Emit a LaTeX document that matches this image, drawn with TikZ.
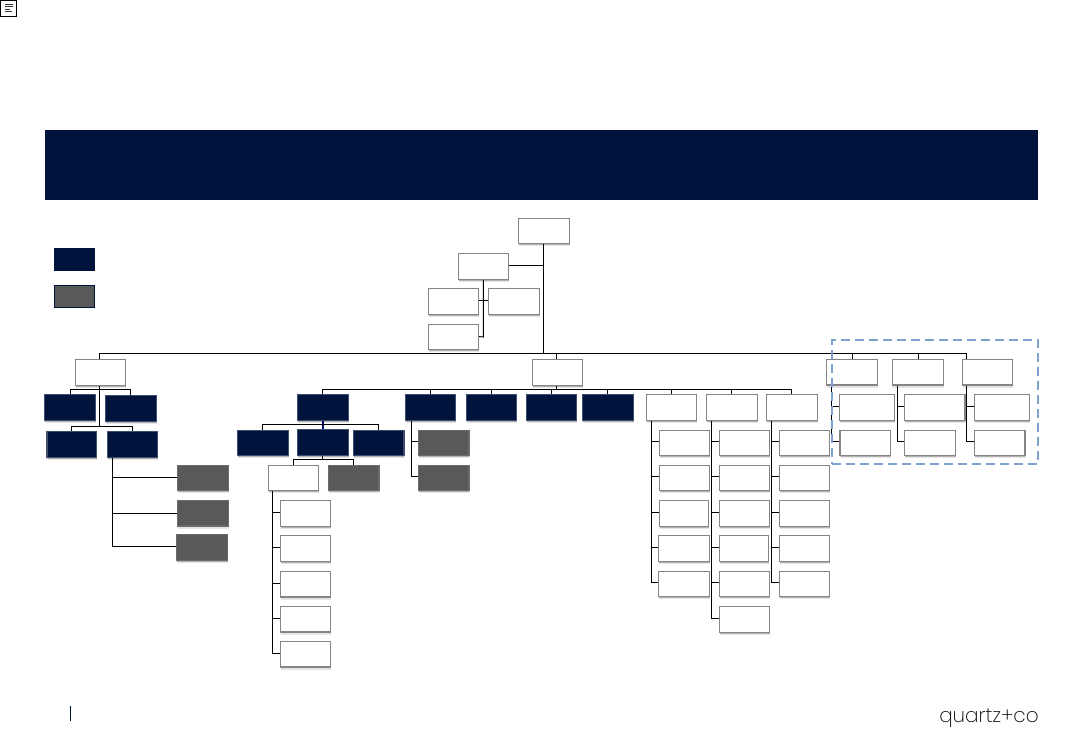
\documentclass[tikz,border=0pt]{standalone}
\usepackage{fontspec}
\newfontfamily\logofont{Poppins}[UprightFont=* ExtraLight]
\usetikzlibrary{shadows,backgrounds,calc}
\definecolor{navy}{HTML}{00133D}
\definecolor{midgray}{HTML}{595959}
\definecolor{dashblue}{HTML}{7FA3CF}
\tikzset{
  x=1pt,y=-1pt,
  softshadow/.style={
    drop shadow={shadow xshift=0.6pt,shadow yshift=-2.6pt,fill=black,opacity=.10},
    drop shadow={shadow xshift=0.4pt,shadow yshift=-1.4pt,fill=black,opacity=.22}},
  basebox/.style={rectangle,inner sep=0pt,outer sep=0pt,line width=1.2pt,softshadow},
  whitebox/.style={basebox,draw=black!48,fill=white},
  navybox/.style={basebox,draw=navy!75!white,fill=navy},
  graybox/.style={basebox,draw=black!58,fill=midgray},
  conn/.style={draw=black,line width=0.95pt},
}
% \bx{style}{name}{x1}{y1}{x2}{y2}
\newcommand{\bx}[6]{%
  \pgfmathsetmacro{\bxw}{#5-#3}\pgfmathsetmacro{\bxh}{#6-#4}%
  \pgfmathsetmacro{\bxcx}{(#3+#5)/2}\pgfmathsetmacro{\bxcy}{(#4+#6)/2}%
  \node[#1,minimum width=\bxw pt,minimum height=\bxh pt] (#2) at (\bxcx,\bxcy) {};}
% \branches{spine coordinate}{list of children}
\newcommand{\branches}[2]{%
  \foreach \kid in {#2}{\draw[conn] ([yshift=1pt]\kid.west) -- ([yshift=1pt]\kid.west -| #1);}}
\begin{document}
\begin{tikzpicture}
\useasboundingbox (0,0) rectangle (1083,750);
% corner note icon
\node[rectangle,draw=black,line width=1pt,fill=white,minimum width=16.5pt,minimum height=16.5pt,inner sep=0pt,outer sep=0pt] (icon) at (8.6,8.6) {};
\foreach \yy/\xx in {4/13,6.5/13,9/10,11.5/12}{\draw[black!80,line width=0.9pt] (4.5,\yy) -- (\xx,\yy);}
% header band
\node[rectangle,fill=navy,inner sep=0pt,minimum width=993pt,minimum height=70pt] (band) at (541.5,165) {};
% legend
\bx{rectangle,inner sep=0pt,fill=navy}{legnavy}{54}{248}{95}{271}
\bx{rectangle,inner sep=0pt,draw=navy,line width=1pt,fill=midgray}{leggray}{54.5}{285.5}{94.5}{307.5}
% top group
\bx{whitebox}{root}{518.5}{218.5}{569.5}{243.5}
\bx{whitebox}{b}{458.5}{253.5}{508.5}{279.5}
\bx{whitebox}{bl}{428.5}{288.5}{478.5}{314.5}
\bx{whitebox}{br}{488.5}{288.5}{539.5}{314.5}
\bx{whitebox}{be}{428.5}{324.5}{478.5}{349.5}
% left group
\bx{whitebox}{L}{75.7}{359.3}{125.7}{385.3}
\bx{navybox}{La}{44.3}{394.3}{95.7}{420.3}
\bx{navybox}{Lb}{105.3}{395.3}{156.3}{421.3}
\bx{navybox}{Lc}{47}{431.3}{96.7}{457.3}
\bx{navybox}{Ld}{107.3}{431.3}{157.7}{457.3}
\bx{graybox}{Ga}{177.3}{465.3}{228.3}{490.3}
\bx{graybox}{Gb}{177.3}{500.3}{228.3}{526}
\bx{graybox}{Gc}{176.3}{534.3}{227.3}{560.3}
% centre head
\bx{whitebox}{F}{532.5}{359.5}{582.7}{385.3}
% sub group M
\bx{navybox}{M}{297.3}{394.3}{348.3}{420.3}
\bx{navybox}{Ma}{237.3}{430.3}{288.3}{455.3}
\bx{navybox}{Mb}{297.3}{429.3}{348.3}{455.7}
\bx{navybox}{Mc}{353.3}{430.3}{404}{455.3}
\bx{whitebox}{Md}{268.3}{465.3}{318.3}{490.3}
\bx{graybox}{Me}{328.3}{465.3}{379}{490.3}
\bx{whitebox}{Mf}{280.3}{500.3}{330.7}{526.3}
\bx{whitebox}{Mg}{280.3}{535.3}{330.7}{561.3}
\bx{whitebox}{Mh}{280.3}{571.3}{330.7}{597}
\bx{whitebox}{Mi}{280.3}{606.3}{330.7}{632}
\bx{whitebox}{Mj}{280.3}{641.3}{330.7}{667}
% sub group N
\bx{navybox}{N}{405.7}{394.3}{455.7}{420.3}
\bx{navybox}{Nb}{466.3}{394.3}{516.3}{420.3}
\bx{navybox}{Nc}{526.3}{394.3}{576.7}{420.3}
\bx{navybox}{Nd}{582.3}{394.3}{633.3}{420.3}
\bx{graybox}{Na}{418.3}{430.3}{469}{455.3}
\bx{graybox}{Ne}{418.3}{465.3}{469}{490.3}
% three columns
\bx{whitebox}{Pa}{646.3}{394.3}{696.3}{420.3}
\bx{whitebox}{Pb}{706.3}{394.3}{757.3}{420.3}
\bx{whitebox}{Pc}{766.3}{394.3}{817.3}{420.3}
\bx{whitebox}{a1}{659.3}{430.3}{709.7}{455.3}
\bx{whitebox}{a2}{659.3}{465.3}{709.7}{490.3}
\bx{whitebox}{a3}{659.3}{500.3}{708.3}{526.3}
\bx{whitebox}{a4}{658.3}{535.3}{709.7}{561.3}
\bx{whitebox}{a5}{658.3}{571.3}{709.7}{596.3}
\bx{whitebox}{b1}{719.3}{430.3}{769.3}{455.3}
\bx{whitebox}{b2}{719.3}{465.3}{769.3}{490.3}
\bx{whitebox}{b3}{719.3}{500.3}{769.3}{526.3}
\bx{whitebox}{b4}{719.3}{535.3}{768.7}{561.3}
\bx{whitebox}{b5}{719.3}{571.3}{769.3}{596.3}
\bx{whitebox}{b6}{719.3}{606.3}{769.3}{632.3}
\bx{whitebox}{c1}{779.3}{430.3}{829.3}{455.3}
\bx{whitebox}{c2}{779.3}{465.3}{829.3}{490.3}
\bx{whitebox}{c3}{779.3}{500.3}{829.3}{526.3}
\bx{whitebox}{c4}{779.3}{535.3}{829.3}{561.3}
\bx{whitebox}{c5}{779.3}{571.3}{829.3}{596.3}
% right group
\bx{whitebox}{Ra}{826.7}{359.3}{877.3}{385}
\bx{whitebox}{Rb}{892.7}{359.3}{943.3}{385}
\bx{whitebox}{Rc}{962.7}{359.3}{1012.3}{385}
\bx{whitebox}{Ra1}{839.3}{394.3}{894.7}{420.3}
\bx{whitebox}{Ra2}{840}{430.3}{890.3}{455.3}
\bx{whitebox}{Rb1}{904.3}{394.3}{965}{420.3}
\bx{whitebox}{Rb2}{904.3}{430.3}{955.3}{455.3}
\bx{whitebox}{Rc1}{974.3}{394.3}{1029.3}{420.3}
\bx{whitebox}{Rc2}{974.3}{430.3}{1025}{455.3}
% junctions
\coordinate (bus) at (543.3,353.3);
\coordinate (bj) at (543.3,265.3);
\coordinate (bs) at (483.3,300.3);
\coordinate (sL) at (99.3,389.7);
\coordinate (sLc) at (99.3,426.3);
\coordinate (sLd) at (112.3,457);
\coordinate (fbus) at (556.3,389.3);
\coordinate (mbus) at (322.3,424.3);
\coordinate (dbus) at (322.3,459.3);
\coordinate (sMd) at (272.3,490);
\coordinate (sN) at (411,420);
\coordinate (sPa) at (651.3,420);
\coordinate (sPb) at (711.3,420);
\coordinate (sPc) at (771.3,420);
\coordinate (sRa) at (831.7,385);
\coordinate (sRb) at (897.7,385);
\coordinate (sRc) at (966.7,385);
\begin{scope}[on background layer]
  % top tree
  \draw[conn] (bj |- root.south) -- (bus);
  \draw[conn] (b.east |- bj) -- (bj);
  \draw[conn] (bs |- b.south) -- (bs |- be.east) -- ([yshift=0.5pt]be.east);
  \draw[conn] ([yshift=1pt]bl.east) -- ([yshift=1pt]br.west);
  % main bus
  \draw[conn] (sL |- bus) -- (sRc |- bus);
  \draw[conn] (sL |- bus) -- (sL |- L.north);
  \draw[conn] (fbus |- bus) -- (fbus |- F.north);
  \draw[conn] (Ra.north |- bus) -- (Ra.north);
  \draw[conn] (Rb.north |- bus) -- (Rb.north);
  \draw[conn] (sRc |- bus) -- (sRc |- Rc.north);
  % left tree
  \draw[conn] (sL |- L.south) -- (sLc);
  \draw[conn] (La.north) |- (sL) -| (Lb.north);
  \draw[conn] (Lc.north) |- (sLc) -| (Ld.north);
  \draw[conn] (sLd) -- ([yshift=1pt]Gc.west -| sLd) -- ([yshift=1pt]Gc.west);
  \draw[conn] ([yshift=0pt]Ga.west -| sLd) -- (Ga.west);
  \draw[conn] (Gb.west -| sLd) -- (Gb.west);
  % centre bus
  \draw[conn] (fbus |- F.south) -- (fbus);
  \draw[conn] (M.north) |- (fbus) -| (Pc.north);
  \foreach \kid in {N,Nb,Nc,Nd,Pa,Pb}{\draw[conn] (\kid.north |- fbus) -- (\kid.north);}
  % M tree
  \draw[navy!70!blue,line width=2pt] (M.south) -- (Mb.north);
  \draw[conn] (Ma.north) |- (mbus) -| (Mc.north);
  \draw[conn] (dbus |- Mb.south) -- (dbus);
  \draw[conn] (Md.north) |- (dbus) -| (Me.north);
  \draw[conn] (sMd) -- ([yshift=1pt]Mj.west -| sMd);
  \branches{sMd}{Mf,Mg,Mh,Mi,Mj}
  % N tree
  \draw[conn] (sN) -- ([yshift=1pt]Ne.west -| sN);
  \branches{sN}{Na,Ne}
  % columns
  \draw[conn] (sPa) -- ([yshift=1pt]a5.west -| sPa);
  \branches{sPa}{a1,a2,a3,a4,a5}
  \draw[conn] (sPb) -- ([yshift=1pt]b6.west -| sPb);
  \branches{sPb}{b1,b2,b3,b4,b5,b6}
  \draw[conn] (sPc) -- ([yshift=1pt]c5.west -| sPc);
  \branches{sPc}{c1,c2,c3,c4,c5}
  % right tree
  \draw[conn] (sRa) -- ([yshift=1pt]Ra2.west -| sRa);
  \branches{sRa}{Ra1,Ra2}
  \draw[conn] (sRb) -- ([yshift=1pt]Rb2.west -| sRb);
  \branches{sRb}{Rb1,Rb2}
  \draw[conn] (sRc) -- ([yshift=1pt]Rc2.west -| sRc);
  \branches{sRc}{Rc1,Rc2}
\end{scope}
% dashed selection frame
\node[rectangle,draw=dashblue,line width=1.7pt,dash pattern=on 9pt off 5pt,inner sep=0pt,minimum width=206pt,minimum height=124pt] (frame) at (935.3,402) {};
% footer
\coordinate (tickT) at (70.5,706);
\coordinate (tickB) at (70.5,721);
\draw[navy,line width=1pt] (tickT) -- (tickB);
\node[anchor=base east,inner sep=0pt,text=black] (logo) at (1039,722) {\logofont\fontsize{20}{20}\selectfont quartz+co};
\end{tikzpicture}
\end{document}
